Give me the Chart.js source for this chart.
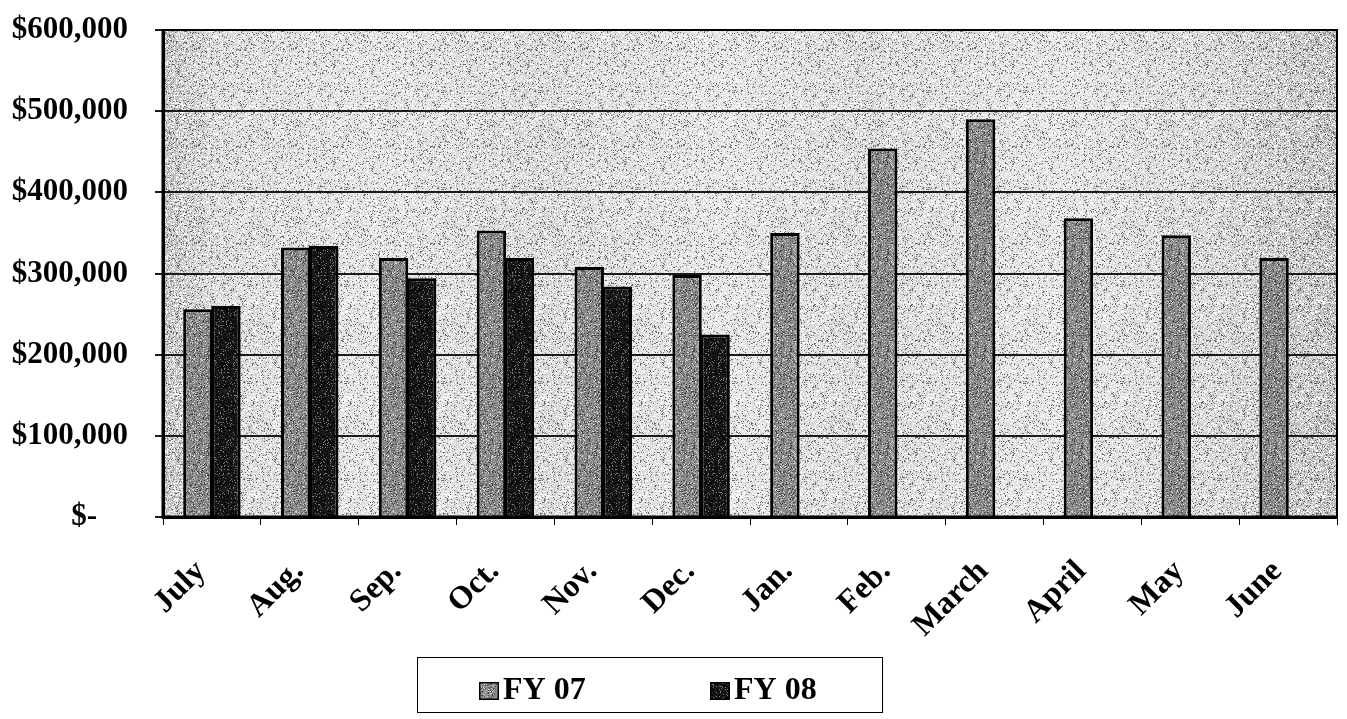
<!DOCTYPE html>
<html>
<head>
<meta charset="utf-8">
<script src="https://cdn.jsdelivr.net/npm/chart.js@4.4.1/dist/chart.umd.min.js"></script>
<style>
    body { margin: 0; background: #fff; }
    .grafico-container { position: relative; width: 1347px; height: 719px; }
</style>
</head>
<body>
<div class="grafico-container">
    <canvas id="graficoMensal"></canvas>
</div>
<script>
const meses = ['July', 'Aug.', 'Sep.', 'Oct.', 'Nov.', 'Dec.', 'Jan.', 'Feb.', 'March', 'April', 'May', 'June'];
const valoresFY07 = [256000, 332000, 319000, 353000, 308000, 298000, 350000, 454000, 490000, 368000, 347000, 319000];
const valoresFY08 = [260000, 334000, 294000, 319000, 284000, 225000, null, null, null, null, null, null];
const rotulosSeries = ['FY 07', 'FY 08'];
const ticksY = [0, 100000, 200000, 300000, 400000, 500000, 600000];

const fonteSerif = "'Liberation Serif', 'Times New Roman', serif";

// granulado da imagem escaneada, sempre o mesmo (semente fixa)
function criarTextura(base, pontos, seed) {
    const c = document.createElement('canvas');
    c.width = 97;
    c.height = 97;
    const g = c.getContext('2d');
    if (base) {
        g.fillStyle = base;
        g.fillRect(0, 0, c.width, c.height);
    }
    let s = seed;
    for (let i = 0; i < c.width * c.height; i++) {
        s = (Math.imul(s, 1103515245) + 12345) & 0x7fffffff;
        const r = (s >>> 8) % 1000;
        let acc = 0;
        for (const p of pontos) {
            acc += p.dens;
            if (r < acc) {
                g.fillStyle = p.cor;
                g.fillRect(i % c.width, Math.floor(i / c.width), 1, 1);
                break;
            }
        }
    }
    return g.createPattern(c, 'repeat');
}

document.addEventListener("DOMContentLoaded", () => {
    const ctx = document.getElementById("graficoMensal").getContext('2d');

    const texturaFY07 = criarTextura('#8a8a8a', [
        { cor: '#cfcfcf', dens: 150 },
        { cor: '#4a4a4a', dens: 170 }
    ], 11);
    const texturaFY08 = criarTextura('#1a1a1a', [
        { cor: '#7a7a7a', dens: 100 },
        { cor: '#000000', dens: 220 }
    ], 23);
    const texturaFundo = criarTextura(null, [
        { cor: 'rgba(0,0,0,0.5)', dens: 100 },
        { cor: 'rgba(255,255,255,0.9)', dens: 320 }
    ], 5);
    const coresSeries = [texturaFY07, texturaFY08];

    const fundoPlot = {
        id: 'fundoPlot',
        beforeDatasetsDraw(chart) {
            const a = chart.chartArea;
            const c = chart.ctx;
            const grad = c.createLinearGradient(a.left, 0, a.right, 0);
            grad.addColorStop(0, '#bababa');
            grad.addColorStop(0.05, '#d4d4d4');
            grad.addColorStop(0.18, '#dedede');
            grad.addColorStop(0.32, '#d1d1d1');
            grad.addColorStop(0.48, '#e0e0e0');
            grad.addColorStop(0.6, '#d2d2d2');
            grad.addColorStop(0.76, '#dfdfdf');
            grad.addColorStop(0.9, '#cfcfcf');
            grad.addColorStop(1, '#b5b5b5');
            c.save();
            c.globalCompositeOperation = 'destination-over';
            c.fillStyle = texturaFundo;
            c.fillRect(a.left, a.top, a.right - a.left, a.bottom - a.top);
            c.fillStyle = grad;
            c.fillRect(a.left, a.top, a.right - a.left, a.bottom - a.top);
            c.restore();
        },
        afterDatasetsDraw(chart) {
            const a = chart.chartArea;
            const c = chart.ctx;
            c.save();
            c.strokeStyle = '#000';
            c.lineWidth = 2;
            c.strokeRect(a.left, a.top, a.right - a.left, a.bottom - a.top);
            c.lineWidth = 3;
            c.beginPath();
            c.moveTo(a.left, a.top);
            c.lineTo(a.left, a.bottom);
            c.lineTo(a.right, a.bottom);
            c.stroke();
            c.restore();
        }
    };

    const legendaCaixa = {
        id: 'legendaCaixa',
        afterDraw(chart) {
            const c = chart.ctx;
            const largura = 465;
            const altura = 55;
            const x0 = Math.round(chart.width * 0.482 - largura / 2);
            const y0 = chart.height - 62;
            c.save();
            c.fillStyle = '#fff';
            c.fillRect(x0, y0, largura, altura);
            c.strokeStyle = '#000';
            c.lineWidth = 1;
            c.strokeRect(x0 + 0.5, y0 + 0.5, largura, altura);
            c.font = "bold 32px " + fonteSerif;
            c.textBaseline = 'middle';
            chart.data.datasets.forEach((ds, i) => {
                const xi = x0 + 62 + i * 231;
                const yi = y0 + 34;
                c.fillStyle = ds.backgroundColor;
                c.fillRect(xi, yi - 9, 20, 18);
                c.strokeStyle = '#000';
                c.lineWidth = 1.5;
                c.strokeRect(xi + 0.75, yi - 8.25, 18.5, 16.5);
                c.fillStyle = '#000';
                c.fillText(ds.label, xi + 24, yi);
            });
            c.restore();
        }
    };

    new Chart(ctx, {
        type: 'bar',
        data: {
            labels: meses,
            datasets: [{
                label: rotulosSeries[0],
                data: valoresFY07,
                backgroundColor: coresSeries[0],
                borderColor: '#000',
                borderWidth: 3,
                categoryPercentage: 0.573,
                barPercentage: 1.05
            }, {
                label: rotulosSeries[1],
                data: valoresFY08,
                backgroundColor: coresSeries[1],
                borderColor: '#000',
                borderWidth: 3,
                categoryPercentage: 0.573,
                barPercentage: 1.05
            }]
        },
        options: {
            responsive: true,
            maintainAspectRatio: false,
            animation: false,
            layout: {
                padding: { top: 30, left: 2, right: 10, bottom: 0 }
            },
            plugins: {
                legend: { display: false },
                tooltip: { enabled: false }
            },
            scales: {
                x: {
                    offset: true,
                    afterFit: (scale) => {
                        scale.height = 202;
                        scale.paddingLeft = 0;
                        scale.paddingRight = 0;
                    },
                    grid: {
                        display: true,
                        offset: true,
                        drawOnChartArea: false,
                        color: '#000',
                        tickLength: 8,
                        tickWidth: 1
                    },
                    border: { display: true, color: '#000', width: 3 },
                    ticks: {
                        color: '#000',
                        minRotation: 45,
                        maxRotation: 45,
                        padding: 28,
                        labelOffset: -11,
                        font: { family: fonteSerif, size: 32, weight: 'bold' }
                    }
                },
                y: {
                    min: 0,
                    max: 600000,
                    afterBuildTicks: (axis) => {
                        axis.ticks = ticksY.map(v => ({ value: v }));
                    },
                    afterFit: (scale) => {
                        scale.width = 161;
                        scale.paddingTop = 0;
                        scale.paddingBottom = 0;
                    },
                    grid: {
                        color: '#1a1a1a',
                        lineWidth: 2,
                        tickLength: 8
                    },
                    border: { display: true, color: '#000', width: 3 },
                    ticks: {
                        color: '#000',
                        padding: 27,
                        font: { family: fonteSerif, size: 31, weight: 'bold' },
                        callback: function(value) {
                            if (value === 0) return '$-    ';
                            return '$' + value.toLocaleString('en-US');
                        }
                    }
                }
            }
        },
        plugins: [fundoPlot, legendaCaixa]
    });
});
</script>
</body>
</html>
